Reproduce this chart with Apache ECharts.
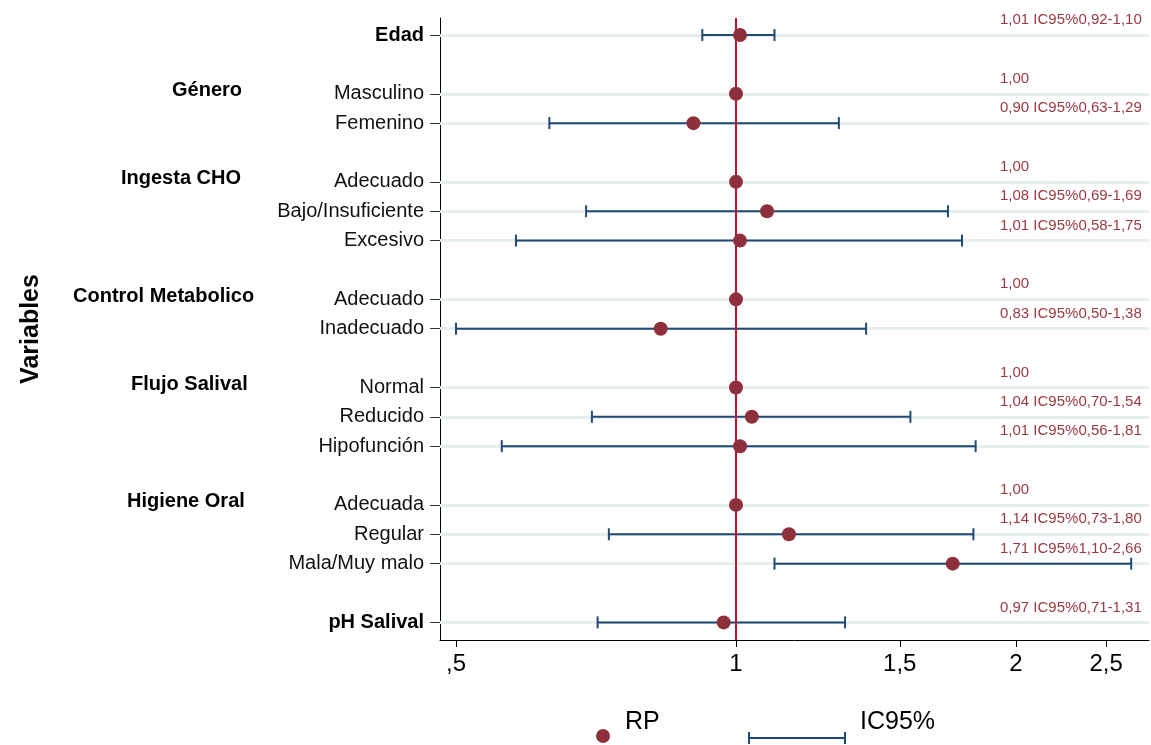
<!DOCTYPE html>
<html>
<head>
<meta charset="utf-8">
<script src="https://cdn.jsdelivr.net/npm/echarts@6/dist/echarts.min.js"></script>
<style>
html,body{margin:0;padding:0;background:#fff;}
#chart{width:1151px;height:745px;}
</style>
</head>
<body>
<div id="chart"></div>
<script>
// ---- data ----
const rowLabels = ['Edad','','Masculino','Femenino','','Adecuado','Bajo/Insuficiente','Excesivo','','Adecuado','Inadecuado','','Normal','Reducido','Hipofunción','','Adecuada','Regular','Mala/Muy malo','','pH Salival'];
const rp = [1.01,null,1.00,0.90,null,1.00,1.08,1.01,null,1.00,0.83,null,1.00,1.04,1.01,null,1.00,1.14,1.71,null,0.97];
const ciLow = [0.92,null,null,0.63,null,null,0.69,0.58,null,null,0.50,null,null,0.70,0.56,null,null,0.73,1.10,null,0.71];
const ciHigh = [1.10,null,null,1.29,null,null,1.69,1.75,null,null,1.38,null,null,1.54,1.81,null,null,1.80,2.66,null,1.31];
const boldRows = ['Edad','pH Salival'];
const groupNames = ['Género','Ingesta CHO','Control Metabolico','Flujo Salival','Higiene Oral'];
const groupRows = [2,5,9,12,16];
const xTicks = [0.5,1,1.5,2,2.5];
const xTickLabels = [',5','1','1,5','2','2,5'];

// ---- layout / style ----
const FONT = "'Liberation Sans', Arial, sans-serif";
const groupLeft = [172,121,73,131,127];
const dotColor = '#8e303b';
const barColor = '#204a74';
const txtColor = '#9b3942';

const fmt = v => v.toFixed(2).replace('.', ',');
const rows = [];
rowLabels.forEach((l,i)=>{ if(l) rows.push(i); });

const dotData = [], barData = [], annData = [];
rp.forEach((v,i)=>{
  if(v==null) return;
  dotData.push([Math.log(v), i]);
  if(ciLow[i]!=null){
    barData.push([Math.log(ciLow[i]), Math.log(ciHigh[i]), i]);
    annData.push([i, fmt(v)+' IC95%'+fmt(ciLow[i])+'-'+fmt(ciHigh[i])]);
  } else {
    annData.push([i, fmt(v)]);
  }
});

const chart = echarts.init(document.getElementById('chart'));
chart.setOption({
  animation:false,
  grid:{left:440,right:2,top:18,bottom:105},
  xAxis:{
    type:'value',
    min:Math.log(0.4806), max:Math.log(2.78),
    axisLine:{show:true,onZero:false,lineStyle:{color:'#000',width:1}},
    axisTick:{show:true,length:7,customValues:xTicks.map(Math.log),lineStyle:{color:'#000'}},
    axisLabel:{customValues:xTicks.map(Math.log),fontSize:24,fontFamily:FONT,color:'#000',margin:12,
      formatter:function(v){
        let best=0,bd=1e9;
        xTicks.forEach((t,k)=>{const d=Math.abs(Math.log(t)-v); if(d<bd){bd=d;best=k;}});
        return xTickLabels[best];
      }},
    splitLine:{show:false}
  },
  yAxis:{
    type:'value', inverse:true, min:-0.58, max:20.6,
    name:'Variables', nameLocation:'middle', nameGap:396, nameRotate:90,
    nameTextStyle:{fontSize:25,fontWeight:'bold',fontFamily:FONT,color:'#000'},
    axisLine:{show:true,onZero:false,lineStyle:{color:'#000',width:1}},
    axisTick:{show:true,length:10,customValues:rows,lineStyle:{color:'#333'}},
    axisLabel:{customValues:rows,margin:16,fontSize:20,fontFamily:FONT,color:'#111',
      formatter:function(v){
        const l=rowLabels[Math.round(v)];
        return boldRows.indexOf(l)>=0 ? '{b|'+l+'}' : l;
      },
      rich:{b:{fontWeight:'bold',fontSize:20,fontFamily:FONT,color:'#000'}}},
    splitLine:{show:false}
  },
  series:[
    {
      type:'scatter', data:[], silent:true,
      markLine:{silent:true,symbol:'none',label:{show:false},
        lineStyle:{color:'#e6eef0',width:3,type:'solid'},
        data:rows.map(i=>({yAxis:i})), z:1}
    },
    {
      type:'scatter', data:[], silent:true,
      markLine:{silent:true,symbol:'none',label:{show:false},
        lineStyle:{color:'#c8102e',width:2,type:'solid'},
        data:[{xAxis:Math.log(1)}]}, z:3
    },
    {
      type:'custom', silent:true, z:4,
      data:barData,
      renderItem:function(params,api){
        const a=api.coord([api.value(0),api.value(2)]);
        const b=api.coord([api.value(1),api.value(2)]);
        const st={stroke:barColor,lineWidth:2};
        return {type:'group',children:[
          {type:'line',shape:{x1:a[0],y1:a[1],x2:b[0],y2:b[1]},style:st},
          {type:'line',shape:{x1:a[0],y1:a[1]-6,x2:a[0],y2:a[1]+6},style:st},
          {type:'line',shape:{x1:b[0],y1:b[1]-6,x2:b[0],y2:b[1]+6},style:st}
        ]};
      }
    },
    {
      type:'scatter', z:5, silent:true,
      data:dotData, symbol:'circle', symbolSize:14,
      itemStyle:{color:dotColor,opacity:1}
    },
    {
      type:'custom', silent:true, z:6,
      data:annData,
      renderItem:function(params,api){
        const p=api.coord([0,api.value(0)]);
        const i=params.dataIndex;
        return {type:'text',x:params.coordSys.x+560,y:p[1]-15,
          style:{text:annData[i][1],fill:txtColor,font:'15px '+FONT,textAlign:'left',textVerticalAlign:'middle'}};
      }
    },
    {
      type:'custom', silent:true, z:6,
      data:groupRows.map((r,k)=>[r,k]),
      renderItem:function(params,api){
        const k=params.dataIndex;
        const p=api.coord([0,api.value(0)]);
        return {type:'text',x:groupLeft[k],y:p[1]-3,
          style:{text:groupNames[k],fill:'#000',font:'bold 20px '+FONT,textAlign:'left',textVerticalAlign:'middle'}};
      }
    }
  ],
  graphic:[
    {type:'circle',shape:{cx:603,cy:736,r:7},style:{fill:dotColor}},
    {type:'text',x:625,y:722,style:{text:'RP',font:'25px '+FONT,fill:'#000',textVerticalAlign:'middle'}},
    {type:'line',shape:{x1:749,y1:738,x2:845,y2:738},style:{stroke:barColor,lineWidth:2}},
    {type:'line',shape:{x1:749,y1:732,x2:749,y2:744},style:{stroke:barColor,lineWidth:2}},
    {type:'line',shape:{x1:845,y1:732,x2:845,y2:744},style:{stroke:barColor,lineWidth:2}},
    {type:'text',x:860,y:722,style:{text:'IC95%',font:'25px '+FONT,fill:'#000',textVerticalAlign:'middle'}}
  ]
});
</script>
</body>
</html>
